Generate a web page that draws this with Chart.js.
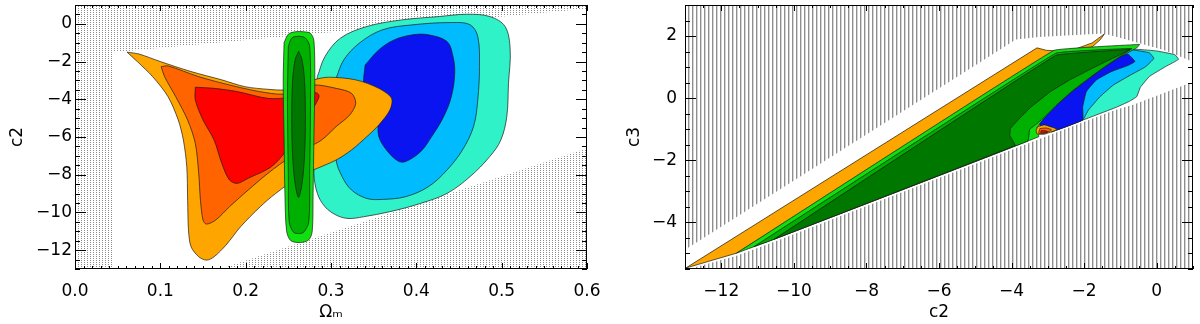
<!DOCTYPE html>
<html><head><meta charset="utf-8">
<script src="https://cdn.jsdelivr.net/npm/chart.js@4.4.0/dist/chart.umd.min.js"></script>
<style>
html,body{margin:0;padding:0;background:#fff;width:1200px;height:324px;overflow:hidden}
.p{position:absolute;top:0;width:600px;height:324px}
</style></head><body>
<div class="p" style="left:0"><canvas id="c1" width="600" height="324"></canvas></div>
<div class="p" style="left:600px"><canvas id="c2" width="600" height="324"></canvas></div>
<script>
// ---------- LEFT PANEL DATA (x = Omega_m, y = c2) ----------
const leftXTicks = [0, 0.1, 0.2, 0.3, 0.4, 0.5, 0.6];
const leftXTickLabels = ['0.0', '0.1', '0.2', '0.3', '0.4', '0.5', '0.6'];
const leftYTicks = [-12, -10, -8, -6, -4, -2, 0];
const leftYTickLabels = ['\u221212', '\u221210', '\u22128', '\u22126', '\u22124', '\u22122', '0'];

const leftHatchStrip = [[0,-13],[0.045,-13],[0.045,1],[0,1],[0,-13]];
const leftHatchTop = [[0.045,-1.5],[0.6,0.8],[0.6,1],[0.045,1],[0.045,-1.5]];
const leftHatchBottom = [[0.17,-13],[0.6,-6.6],[0.6,-13],[0.17,-13]];

const leftCyan = [[0.284,-2.8],[0.293,-1.73],[0.311,-0.76],[0.342,-0.14],[0.383,0.21],[0.427,0.39],[0.459,0.51],[0.486,0.39],[0.504,-0.14],[0.510,-1.38],[0.508,-3.15],[0.506,-4.92],[0.499,-6.16],[0.486,-7.04],[0.463,-8.1],[0.436,-8.99],[0.405,-9.52],[0.369,-9.96],[0.338,-10.23],[0.320,-10.32],[0.306,-10.14],[0.293,-9.7],[0.284,-8.99],[0.280,-7.93],[0.281,-6],[0.282,-4],[0.284,-2.8]];
const leftBlueLight = [[0.306,-2.88],[0.315,-1.91],[0.333,-1.03],[0.36,-0.32],[0.396,-0.05],[0.441,0.07],[0.463,-0.05],[0.472,-0.67],[0.474,-2.27],[0.472,-4.04],[0.467,-5.45],[0.454,-6.69],[0.436,-7.75],[0.414,-8.64],[0.387,-9.17],[0.360,-9.31],[0.342,-9.26],[0.324,-8.81],[0.313,-8.1],[0.306,-7.22],[0.304,-5],[0.305,-3.8],[0.306,-2.88]];
const leftBlueDark = [[0.340,-2.18],[0.356,-1.38],[0.374,-0.85],[0.396,-0.58],[0.414,-0.58],[0.436,-0.94],[0.443,-1.73],[0.445,-2.62],[0.441,-3.86],[0.432,-4.92],[0.418,-5.98],[0.405,-6.78],[0.387,-7.31],[0.378,-7.26],[0.365,-6.69],[0.356,-5.98],[0.354,-5.1],[0.345,-4.5],[0.340,-4.04],[0.338,-3.15],[0.340,-2.18]];
const leftOrangeOuter = [[0.061,-1.50],[0.075,-1.6],[0.100,-2.0],[0.136,-2.53],[0.172,-2.97],[0.199,-3.33],[0.226,-3.47],[0.246,-3.5],[0.262,-3.3],[0.280,-2.97],[0.297,-2.83],[0.329,-2.97],[0.356,-3.42],[0.371,-3.95],[0.369,-4.57],[0.356,-5.36],[0.342,-5.98],[0.324,-6.69],[0.306,-7.22],[0.284,-7.66],[0.266,-8.0],[0.235,-9.0],[0.217,-9.7],[0.194,-10.76],[0.177,-11.73],[0.163,-12.35],[0.154,-12.53],[0.145,-12.35],[0.136,-11.82],[0.133,-10.94],[0.132,-9.35],[0.131,-7.58],[0.127,-6.16],[0.121,-5.1],[0.109,-3.86],[0.091,-2.8],[0.073,-2.0],[0.061,-1.50]];
const leftOrangeMid = [[0.101,-2.27],[0.109,-2.23],[0.145,-2.8],[0.181,-3.24],[0.216,-3.59],[0.244,-3.73],[0.262,-3.5],[0.28,-3.24],[0.306,-3.42],[0.324,-3.68],[0.329,-4.21],[0.322,-4.83],[0.306,-5.45],[0.289,-6.16],[0.271,-6.6],[0.253,-7.04],[0.226,-7.93],[0.203,-8.81],[0.181,-9.7],[0.165,-10.4],[0.154,-10.62],[0.150,-10.4],[0.147,-9.35],[0.145,-7.93],[0.141,-6.34],[0.132,-5.1],[0.118,-3.86],[0.105,-2.8],[0.101,-2.27]];
const leftRed = [[0.141,-3.36],[0.163,-3.42],[0.190,-3.59],[0.226,-3.95],[0.250,-3.9],[0.271,-3.59],[0.284,-3.68],[0.286,-3.86],[0.280,-4.39],[0.265,-5.2],[0.255,-6.0],[0.248,-6.69],[0.230,-7.58],[0.203,-8.19],[0.190,-8.46],[0.181,-8.28],[0.172,-7.4],[0.163,-6.16],[0.150,-5.1],[0.141,-4.04],[0.141,-3.36]];
const leftGreenOuter = [[0.245,-1.0],[0.250,-0.55],[0.258,-0.42],[0.268,-0.42],[0.276,-0.5],[0.280,-0.9],[0.281,-3],[0.280,-6],[0.279,-9],[0.278,-11.0],[0.274,-11.45],[0.264,-11.6],[0.253,-11.5],[0.248,-11.0],[0.246,-9],[0.245,-6],[0.244,-3],[0.245,-1.0]];
const leftGreenMid = [[0.250,-1.2],[0.254,-0.75],[0.262,-0.66],[0.270,-0.75],[0.275,-1.2],[0.276,-4],[0.275,-8],[0.274,-10.5],[0.268,-11.05],[0.262,-11.12],[0.256,-11.05],[0.251,-10.5],[0.250,-8],[0.249,-4],[0.250,-1.2]];
const leftGreenInner = [[0.262,-1.45],[0.266,-1.9],[0.269,-3],[0.270,-5],[0.269,-7],[0.266,-8.5],[0.262,-9.2],[0.258,-8.5],[0.255,-7],[0.254,-5],[0.255,-3],[0.258,-1.9],[0.262,-1.45]];

// ---------- RIGHT PANEL DATA (x = c2, y = c3) ----------
const rightXTicks = [-12, -10, -8, -6, -4, -2, 0];
const rightXTickLabels = ['\u221212', '\u221210', '\u22128', '\u22126', '\u22124', '\u22122', '0'];
const rightYTicks = [-4, -2, 0, 2];
const rightYTickLabels = ['\u22124', '\u22122', '0', '2'];

const rightHatchUpper = [[-13,-4.88],[-3.88,1.89],[-3.25,1.97],[-1.46,2.08],[-0.84,1.89],[0.21,1.54],[1,1.17],[1,3],[-13,3],[-13,-4.88]];
const rightHatchLower = [[-12.9,-5.5],[-11.58,-5.07],[-10.54,-4.62],[-2.75,-1.1],[-1.15,-0.38],[-0.63,-0.2],[1,0.53],[1,-5.5],[-12.9,-5.5]];

const rightCyan = [[-2.9,-1.09],[-1.15,-0.31],[-0.75,-0.10],[-0.55,0.05],[-0.45,0.35],[-0.2,0.7],[0.25,1.02],[0.6,1.25],[0.5,1.4],[0.0,1.52],[-0.5,1.57],[-1.0,1.57],[-1.5,1.2],[-2.5,0.0],[-2.9,-0.8],[-2.9,-1.09]];
const rightBlueLight = [[-2.9,-1.09],[-2.04,-0.70],[-1.88,-0.38],[-1.57,0.04],[-1.20,0.42],[-0.73,0.74],[-0.31,1.01],[-0.08,1.28],[-0.2,1.46],[-0.63,1.55],[-1.05,1.55],[-1.6,1.1],[-2.5,0.1],[-2.9,-0.8],[-2.9,-1.09]];
const rightBlueDark = [[-3.2,-1.05],[-3.25,-0.5],[-2.6,0.2],[-1.5,1.1],[-0.8,1.42],[-0.6,1.18],[-0.78,1.06],[-1.26,0.85],[-1.67,0.58],[-1.94,0.21],[-2.04,-0.28],[-2.04,-0.70],[-2.72,-1.01],[-3.2,-1.05]];
const rightOrange = [[-12.98,-5.47],[-3.30,1.62],[-3.04,1.54],[-2.72,1.52],[-2.20,1.60],[-1.78,1.78],[-1.44,2.07],[-1.55,1.89],[-1.78,1.65],[-2.20,1.52],[-2.72,1.45],[-2.9,1.4],[-11.58,-4.99],[-12.98,-5.47]];
const rightGreenLight = [[-11.58,-4.99],[-2.83,1.54],[-0.47,1.73],[-0.55,1.62],[-1.05,1.3],[-1.46,0.98],[-1.88,0.62],[-2.30,0.25],[-2.72,-0.18],[-2.99,-0.5],[-3.2,-0.78],[-3.3,-0.95],[-3.25,-1.24],[-10.54,-4.54],[-11.58,-4.99]];
const rightGreenMid = [[-11.1,-4.78],[-2.78,1.45],[-0.68,1.60],[-1.1,1.28],[-1.5,0.96],[-1.92,0.6],[-2.34,0.22],[-2.76,-0.22],[-3.05,-0.56],[-3.3,-0.82],[-3.5,-1.0],[-3.55,-1.38],[-10.54,-4.54],[-11.1,-4.78]];
const rightGreenDark = [[-10.54,-4.54],[-2.78,1.38],[-0.73,1.57],[-0.94,1.44],[-1.78,0.96],[-2.41,0.58],[-2.93,0.21],[-3.46,-0.28],[-3.82,-0.7],[-4.03,-0.97],[-4.05,-1.2],[-3.9,-1.52],[-10.54,-4.54]];
const rightBlobOrange = [[-3.28,-0.92],[-3.1,-0.86],[-2.9,-0.93],[-2.75,-1.0],[-2.85,-1.06],[-3.1,-1.16],[-3.3,-1.15],[-3.32,-1.02],[-3.28,-0.92]];
const rightBlobMid = [[-3.22,-0.98],[-3.05,-0.96],[-2.9,-1.02],[-3.05,-1.12],[-3.25,-1.13],[-3.22,-0.98]];
const rightBlobRed = [[-3.18,-1.04],[-3.06,-1.05],[-3.0,-1.08],[-3.12,-1.12],[-3.2,-1.1],[-3.18,-1.04]];

// ---------- rendering ----------
const FONT = {family: "'DejaVu Sans'", size: 17, weight: 'normal'};

function makePattern(kind) {
  const c = document.createElement('canvas');
  const g = c.getContext('2d');
  if (kind === 'dots') {
    c.width = 3; c.height = 2;
    g.fillStyle = '#fff'; g.fillRect(0, 0, 3, 2);
    g.fillStyle = '#8c8c8c'; g.fillRect(0, 0, 1, 1);
  } else {
    c.width = 4; c.height = 1;
    g.fillStyle = '#fff'; g.fillRect(0, 0, 4, 1);
    g.fillStyle = '#8e8e8e'; g.fillRect(0, 0, 1, 1);
    g.fillStyle = '#d4d4d4'; g.fillRect(1, 0, 1, 1);
  }
  return g.createPattern(c, 'repeat');
}

function layer(arr, color, tension, outline) {
  return {
    data: arr.map(([x, y]) => ({x, y})),
    fill: 'shape',
    backgroundColor: color,
    borderColor: outline ? '#1a1a1a' : 'rgba(0,0,0,0)',
    borderWidth: outline ? 0.7 : 0,
    pointRadius: 0,
    tension: tension
  };
}

function decoPlugin(xr, yr) {
  return {
    id: 'deco',
    afterDatasetsDraw(chart) {
      const ctx = chart.ctx, a = chart.chartArea;
      const xs = chart.scales.x, ys = chart.scales.y;
      ctx.save();
      ctx.strokeStyle = '#000';
      ctx.lineWidth = 1;
      ctx.beginPath();
      const xt = (v, L) => {
        const p = Math.round(xs.getPixelForValue(v)) + 0.5;
        ctx.moveTo(p, a.bottom); ctx.lineTo(p, a.bottom - L);
        ctx.moveTo(p, a.top); ctx.lineTo(p, a.top + L);
      };
      const yt = (v, L) => {
        const p = Math.round(ys.getPixelForValue(v)) + 0.5;
        ctx.moveTo(a.left, p); ctx.lineTo(a.left + L, p);
        ctx.moveTo(a.right, p); ctx.lineTo(a.right - L, p);
      };
      for (let v = xr.min; v <= xr.max + 1e-9; v += xr.minor) xt(v, 3);
      for (let v = xr.first; v <= xr.max + 1e-9; v += xr.major) xt(v, 6);
      for (let v = yr.min; v <= yr.max + 1e-9; v += yr.minor) yt(v, 5);
      for (let v = yr.first; v <= yr.max + 1e-9; v += yr.major) yt(v, 11);
      ctx.stroke();
      ctx.strokeRect(Math.round(a.left) + 0.5, Math.round(a.top) + 0.5,
        Math.round(a.right - a.left) - 1, Math.round(a.bottom - a.top) - 1);
      ctx.restore();
    }
  };
}

function makeChart(id, cfg) {
  const datasets = cfg.layers.map((l, i) => Object.assign(l, {order: cfg.layers.length - i}));
  return new Chart(document.getElementById(id), {
    type: 'line',
    data: {datasets},
    options: {
      responsive: false,
      animation: false,
      events: [],
      layout: {padding: cfg.padding},
      plugins: {legend: {display: false}, tooltip: {enabled: false}},
      scales: {
        x: {
          type: 'linear', min: cfg.x.min, max: cfg.x.max,
          grid: {display: false, drawTicks: false},
          border: {display: false},
          afterFit: s => { s.height = cfg.xHeight; s.paddingLeft = 0; s.paddingRight = 0; },
          afterBuildTicks: s => { s.ticks = cfg.x.ticks.map(v => ({value: v})); },
          ticks: {
            autoSkip: false, maxRotation: 0, padding: cfg.xPad, color: '#000', font: FONT,
            callback: (v, i) => cfg.x.labels[i]
          },
          title: {display: true, text: cfg.x.title, color: '#000', font: FONT, padding: cfg.xTitlePad}
        },
        y: {
          type: 'linear', min: cfg.y.min, max: cfg.y.max,
          grid: {display: false, drawTicks: false},
          border: {display: false},
          afterFit: s => { s.width = cfg.yWidth; s.paddingTop = 0; s.paddingBottom = 0; },
          afterBuildTicks: s => { s.ticks = cfg.y.ticks.map(v => ({value: v})); },
          ticks: {
            autoSkip: false, padding: cfg.yPad, color: '#000', font: FONT,
            callback: (v, i) => cfg.y.labels[i]
          },
          title: {display: true, text: cfg.y.title, color: '#000', font: FONT, padding: cfg.yTitlePad}
        }
      }
    },
    plugins: [decoPlugin(cfg.deco.x, cfg.deco.y)]
  });
}

const dots = makePattern('dots');
const lines = makePattern('lines');

const ORANGE = '#ffa500', ORANGE2 = '#ff6400', RED = '#ff0000';
const GREEN1 = '#10e010', GREEN2 = '#00b000', GREEN3 = '#007800';
const CYAN = '#30f2c8', BLUE1 = '#00bcff', BLUE2 = '#0a14f0';

makeChart('c1', {
  padding: {top: 5, right: 13, left: 0, bottom: 0},
  xHeight: 55, yWidth: 75, xPad: 12, yPad: 3,
  xTitlePad: {top: 0, bottom: 1}, yTitlePad: {top: 7, bottom: 0},
  x: {min: 0, max: 0.6, ticks: leftXTicks, labels: leftXTickLabels, title: '\u03A9\u2098'},
  y: {min: -13, max: 1, ticks: leftYTicks, labels: leftYTickLabels, title: 'c2'},
  deco: {x: {min: 0, max: 0.6, minor: 0.01, first: 0, major: 0.1}, y: {min: -13, max: 1, minor: 0.5, first: -12, major: 2}},
  layers: [
    layer(leftHatchStrip, dots, 0, false),
    layer(leftHatchTop, dots, 0, false),
    layer(leftHatchBottom, dots, 0, false),
    layer(leftCyan, CYAN, 0.35, true),
    layer(leftBlueLight, BLUE1, 0.35, true),
    layer(leftBlueDark, BLUE2, 0.35, true),
    layer(leftOrangeOuter, ORANGE, 0.3, true),
    layer(leftOrangeMid, ORANGE2, 0.3, true),
    layer(leftRed, RED, 0.3, true),
    layer(leftGreenOuter, GREEN1, 0.3, true),
    layer(leftGreenMid, GREEN2, 0.3, true),
    layer(leftGreenInner, GREEN3, 0.3, true)
  ]
});

makeChart('c2', {
  padding: {top: 5, right: 7, left: 0, bottom: 0},
  xHeight: 55, yWidth: 85, xPad: 12, yPad: 8,
  xTitlePad: {top: 0, bottom: 1}, yTitlePad: {top: 24, bottom: 0},
  x: {min: -13, max: 1, ticks: rightXTicks, labels: rightXTickLabels, title: 'c2'},
  y: {min: -5.5, max: 3, ticks: rightYTicks, labels: rightYTickLabels, title: 'c3'},
  deco: {x: {min: -13, max: 1, minor: 0.5, first: -12, major: 2}, y: {min: -5.5, max: 3, minor: 0.5, first: -4, major: 2}},
  layers: [
    layer(rightHatchUpper, lines, 0, false),
    layer(rightHatchLower, lines, 0, false),
    layer(rightCyan, CYAN, 0.1, true),
    layer(rightBlueLight, BLUE1, 0.1, true),
    layer(rightBlueDark, BLUE2, 0.1, true),
    layer(rightOrange, ORANGE, 0, true),
    layer(rightGreenLight, GREEN1, 0.05, true),
    layer(rightGreenMid, GREEN2, 0.05, true),
    layer(rightGreenDark, GREEN3, 0.05, true),
    layer(rightBlobOrange, ORANGE, 0.2, true),
    layer(rightBlobMid, ORANGE2, 0.2, true),
    layer(rightBlobRed, RED, 0.2, true)
  ]
});
</script>
</body></html>
